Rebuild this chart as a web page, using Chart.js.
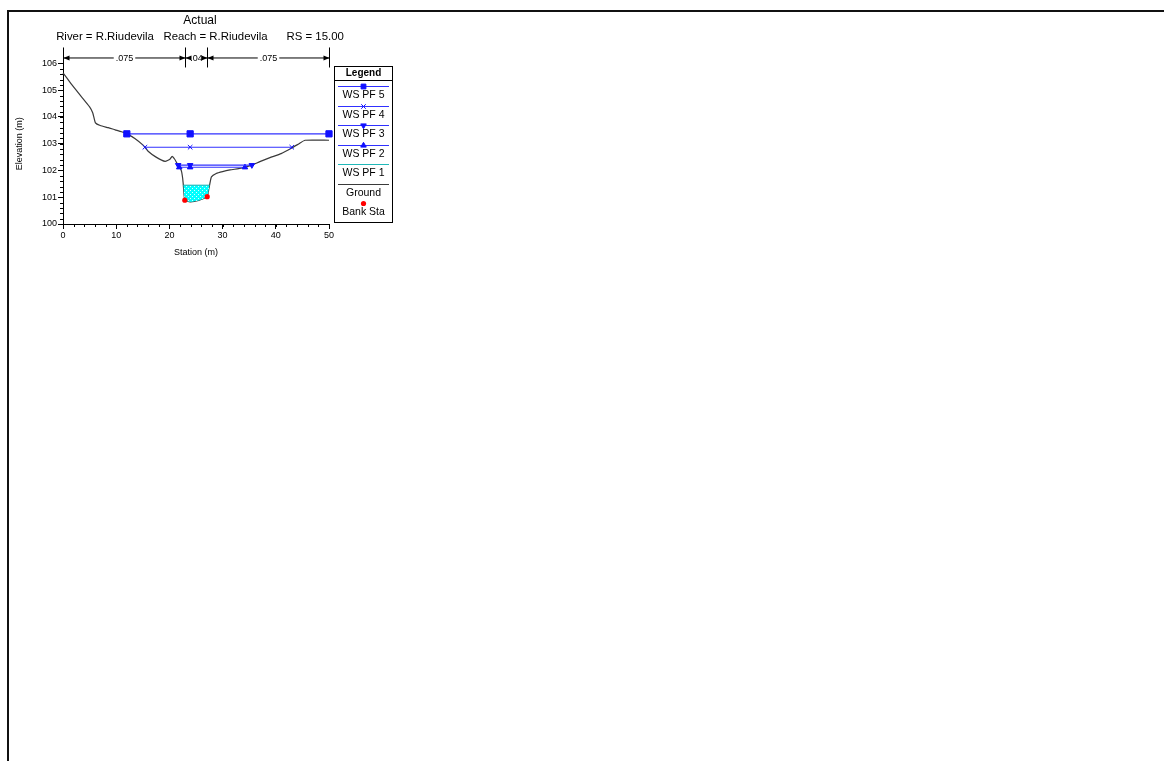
<!DOCTYPE html>
<html>
<head>
<meta charset="utf-8">
<title>Actual - RS 15.00</title>
<script src="https://cdn.jsdelivr.net/npm/chart.js@4.4.1/dist/chart.umd.min.js"></script>
<style>
  html, body { margin: 0; padding: 0; background: #fff; }
  body { width: 1164px; height: 761px; position: relative; overflow: hidden; }
  #frame {
    position: absolute; left: 7px; top: 10px; right: 0; bottom: 0;
    border-top: 2px solid #111; border-left: 2px solid #111;
  }
  #wrap { position: absolute; left: 0; top: 0; width: 400px; height: 270px; }
</style>
</head>
<body>
<div id="frame"></div>
<div id="wrap"><canvas id="xs"></canvas></div>
<script>
// ground profile (station, elevation)
const groundX = [0, 1.5, 3, 5, 5.6, 6.1, 7, 8.5, 9.8, 11, 12, 13.5, 15.1, 16, 17.5, 19.2, 20.1, 20.5, 21.0, 21.5, 22.0, 22.3, 22.5, 22.6, 22.9, 23.9, 25.5, 27.1, 27.4, 27.6, 27.9, 28.8, 30, 31.4, 33, 34.2, 35.5, 37, 38.9, 41, 43, 44.5, 45.5, 50];
const groundY = [105.65, 105.25, 104.87, 104.38, 104.15, 103.78, 103.68, 103.6, 103.52, 103.45, 103.37, 103.2, 102.94, 102.72, 102.5, 102.34, 102.42, 102.53, 102.42, 102.24, 102.1, 101.95, 101.7, 101.5, 100.89, 100.83, 100.88, 101.02, 101.3, 101.5, 101.76, 101.89, 101.96, 102.02, 102.07, 102.12, 102.2, 102.33, 102.48, 102.63, 102.84, 103.02, 103.13, 103.13];

// bank stations
const bankX = [22.9, 27.1];
const bankY = [100.89, 101.02];

// water surfaces: left edge, centre, right edge, elevation
const wsNames = ['WS PF 5', 'WS PF 4', 'WS PF 3', 'WS PF 2', 'WS PF 1'];
const wsLeft = [12, 15.4, 21.65, 21.85, 22.62];
const wsMid = [23.9, 23.9, 23.9, 23.9, null];
const wsRight = [50, 43, 35.5, 34.2, 27.55];
const wsElev = [103.37, 102.87, 102.2, 102.12, 101.45];

// Manning's n zones
const nBreaks = [0, 22.9, 27.1, 50];
const nValues = ['.075', '.04', '.075'];

const FONT = '"Liberation Sans", Arial, sans-serif';

function wsPoints(i) {
  const pts = [{ x: wsLeft[i], y: wsElev[i] }];
  if (wsMid[i] !== null) pts.push({ x: wsMid[i], y: wsElev[i] });
  pts.push({ x: wsRight[i], y: wsElev[i] });
  return pts;
}

// cyan water with white dots
function waterPattern() {
  const c = document.createElement('canvas');
  c.width = 4; c.height = 4;
  const g = c.getContext('2d');
  g.fillStyle = '#00ffff';
  g.fillRect(0, 0, 4, 4);
  g.fillStyle = '#d8ffff';
  g.fillRect(0, 0, 1, 1);
  g.fillRect(2, 2, 1, 1);
  return g.createPattern(c, 'repeat');
}

const wsStyles = [
  { pointStyle: 'rect', pointRadius: 4.4, rotation: 0 },
  { pointStyle: 'crossRot', pointRadius: 3.2, rotation: 0 },
  { pointStyle: 'triangle', pointRadius: 3.2, rotation: 180 },
  { pointStyle: 'triangle', pointRadius: 3.2, rotation: 0 },
  { pointStyle: 'circle', pointRadius: 0, rotation: 0 },
];

const datasets = [
  {
    label: 'Ground',
    data: groundX.map((x, i) => ({ x, y: groundY[i] })),
    borderColor: '#3a3a3a',
    borderWidth: 1.2,
    pointRadius: 0,
    tension: 0.15,
    order: 3,
  },
  {
    label: 'Bank Sta',
    data: bankX.map((x, i) => ({ x, y: bankY[i] })),
    showLine: false,
    pointStyle: 'circle',
    pointRadius: 2.6,
    backgroundColor: '#ff0000',
    borderColor: '#ff0000',
    borderWidth: 0,
    order: 0,
  },
];

wsNames.forEach((name, i) => {
  const isPF1 = i === 4;
  datasets.push({
    label: name,
    data: wsPoints(i),
    borderColor: isPF1 ? '#20b8b8' : '#3030ff',
    borderWidth: 1.1,
    pointStyle: wsStyles[i].pointStyle,
    pointRadius: wsStyles[i].pointRadius,
    rotation: wsStyles[i].rotation,
    pointBorderWidth: 1,
    pointBackgroundColor: '#1010ff',
    pointBorderColor: '#1010ff',
    backgroundColor: isPF1 ? waterPattern() : 'transparent',
    fill: isPF1 ? 0 : false,
    order: 1,
  });
});

// minor ticks every 2 m / 0.2 m
const minorTicks = {
  id: 'minorTicks',
  afterDraw(chart) {
    const { ctx, chartArea: a, scales } = chart;
    ctx.save();
    ctx.strokeStyle = '#000';
    ctx.lineWidth = 1;
    ctx.beginPath();
    for (let v = 0; v <= 50; v += 2) {
      const px = Math.round(scales.x.getPixelForValue(v)) + 0.5;
      ctx.moveTo(px, a.bottom);
      ctx.lineTo(px, a.bottom + 3);
    }
    for (let k = 0; k <= 30; k++) {
      const py = Math.round(scales.y.getPixelForValue(100 + k * 0.2)) + 0.5;
      ctx.moveTo(a.left, py);
      ctx.lineTo(a.left - 3, py);
    }
    ctx.stroke();
    ctx.restore();
  }
};

// n value zones above the plot
const nZones = {
  id: 'nZones',
  afterDraw(chart) {
    const { ctx, chartArea: a, scales } = chart;
    const y = a.top - 6;
    ctx.save();
    ctx.strokeStyle = '#000';
    ctx.fillStyle = '#000';
    ctx.lineWidth = 1;
    const xs = nBreaks.map(s => Math.round(scales.x.getPixelForValue(s)) + 0.5);
    ctx.beginPath();
    xs.forEach(px => { ctx.moveTo(px, y - 10); ctx.lineTo(px, y + 10); });
    ctx.stroke();
    ctx.font = '9px ' + FONT;
    ctx.textAlign = 'center';
    ctx.textBaseline = 'middle';
    for (let i = 0; i < nValues.length; i++) {
      const x1 = xs[i], x2 = xs[i + 1];
      const mid = (x1 + x2) / 2;
      const tw = ctx.measureText(nValues[i]).width + 4;
      ctx.beginPath();
      ctx.moveTo(x1, y + 0.5); ctx.lineTo(Math.max(x1, mid - tw / 2), y + 0.5);
      ctx.moveTo(Math.min(x2, mid + tw / 2), y + 0.5); ctx.lineTo(x2, y + 0.5);
      ctx.stroke();
      // arrow heads
      ctx.beginPath();
      ctx.moveTo(x1, y + 0.5); ctx.lineTo(x1 + 6, y - 2); ctx.lineTo(x1 + 6, y + 3); ctx.closePath();
      ctx.moveTo(x2, y + 0.5); ctx.lineTo(x2 - 6, y - 2); ctx.lineTo(x2 - 6, y + 3); ctx.closePath();
      ctx.fill();
      ctx.fillText(nValues[i], mid, y + 1);
    }
    ctx.restore();
  }
};

// boxed legend on the right
const rasLegend = {
  id: 'rasLegend',
  afterDraw(chart) {
    const { ctx, chartArea: a } = chart;
    const left = Math.round(a.right) + 5, top = 66, w = 58, h = 156;
    const order = [2, 3, 4, 5, 6, 0, 1];
    ctx.save();
    ctx.fillStyle = '#fff';
    ctx.fillRect(left, top, w, h);
    ctx.strokeStyle = '#000';
    ctx.lineWidth = 1;
    ctx.strokeRect(left + 0.5, top + 0.5, w, h);
    ctx.beginPath();
    ctx.moveTo(left, top + 14.5); ctx.lineTo(left + w, top + 14.5);
    ctx.stroke();
    ctx.fillStyle = '#000';
    ctx.textAlign = 'center';
    ctx.textBaseline = 'middle';
    ctx.font = 'bold 10px ' + FONT;
    ctx.fillText('Legend', left + w / 2 + 0.5, top + 7.5);
    ctx.font = '10.5px ' + FONT;
    const cx = left + w / 2 + 0.5;
    order.forEach((idx, i) => {
      const ds = chart.data.datasets[idx];
      const ly = Math.round(top + 20 + i * 19.5) + 0.5;
      if (ds.showLine !== false) {
        ctx.strokeStyle = ds.borderColor;
        ctx.lineWidth = ds.borderWidth;
        ctx.beginPath();
        ctx.moveTo(left + 4, ly); ctx.lineTo(left + w - 3, ly);
        ctx.stroke();
      }
      if (ds.pointRadius > 0) {
        ctx.fillStyle = ds.pointBackgroundColor || ds.backgroundColor;
        ctx.strokeStyle = ds.pointBorderColor || ds.borderColor;
        ctx.lineWidth = 1;
        Chart.helpers.drawPoint(ctx, {
          pointStyle: ds.pointStyle,
          radius: Math.min(ds.pointRadius, 3.4),
          rotation: ds.rotation || 0,
          borderWidth: ds.pointBorderWidth || 0,
        }, cx, ly);
      }
      ctx.fillStyle = '#000';
      ctx.fillText(ds.label, cx, ly + 8.5);
    });
    ctx.restore();
  }
};

new Chart(document.getElementById('xs'), {
  type: 'line',
  data: { datasets },
  plugins: [minorTicks, nZones, rasLegend],
  options: {
    responsive: true,
    maintainAspectRatio: false,
    animation: false,
    events: [],
    datasets: { line: { clip: false } },
    layout: { padding: { left: 0, right: 0, top: 0, bottom: 8 } },
    plugins: {
      legend: { display: false },
      tooltip: { enabled: false },
      title: {
        display: true,
        text: 'Actual',
        color: '#000',
        font: { family: FONT, size: 12, weight: 'normal' },
        padding: { top: 13, bottom: 1 },
      },
      subtitle: {
        display: true,
        text: 'River = R.Riudevila   Reach = R.Riudevila      RS = 15.00',
        color: '#000',
        font: { family: FONT, size: 11.4 },
        padding: { top: 2, bottom: 19.4 },
      },
    },
    scales: {
      x: {
        type: 'linear',
        min: 0,
        max: 50,
        ticks: { stepSize: 10, color: '#000', font: { family: FONT, size: 9 }, padding: 1, maxRotation: 0 },
        grid: { drawOnChartArea: false, tickLength: 5, color: '#000' },
        border: { color: '#000', width: 1 },
        title: { display: true, text: 'Station (m)', color: '#000', font: { family: FONT, size: 9 }, padding: { top: 0, bottom: 4 } },
        afterFit(scale) { scale.height = 38; },
      },
      y: {
        type: 'linear',
        min: 100,
        max: 106,
        ticks: { stepSize: 1, color: '#000', font: { family: FONT, size: 9 }, padding: 1 },
        grid: { drawOnChartArea: false, tickLength: 5, color: '#000' },
        border: { color: '#000', width: 1 },
        title: { display: true, text: 'Elevation (m)', color: '#000', font: { family: FONT, size: 9 }, padding: { top: 14, bottom: 0 } },
        afterFit(scale) { scale.width = 63; },
      },
      // empty right-hand strip that holds the legend box
      yLegend: {
        type: 'linear',
        position: 'right',
        min: 100,
        max: 106,
        ticks: { display: false },
        grid: { display: false },
        border: { display: false },
        afterFit(scale) { scale.width = 71; },
      },
    },
  },
});
</script>
</body>
</html>
